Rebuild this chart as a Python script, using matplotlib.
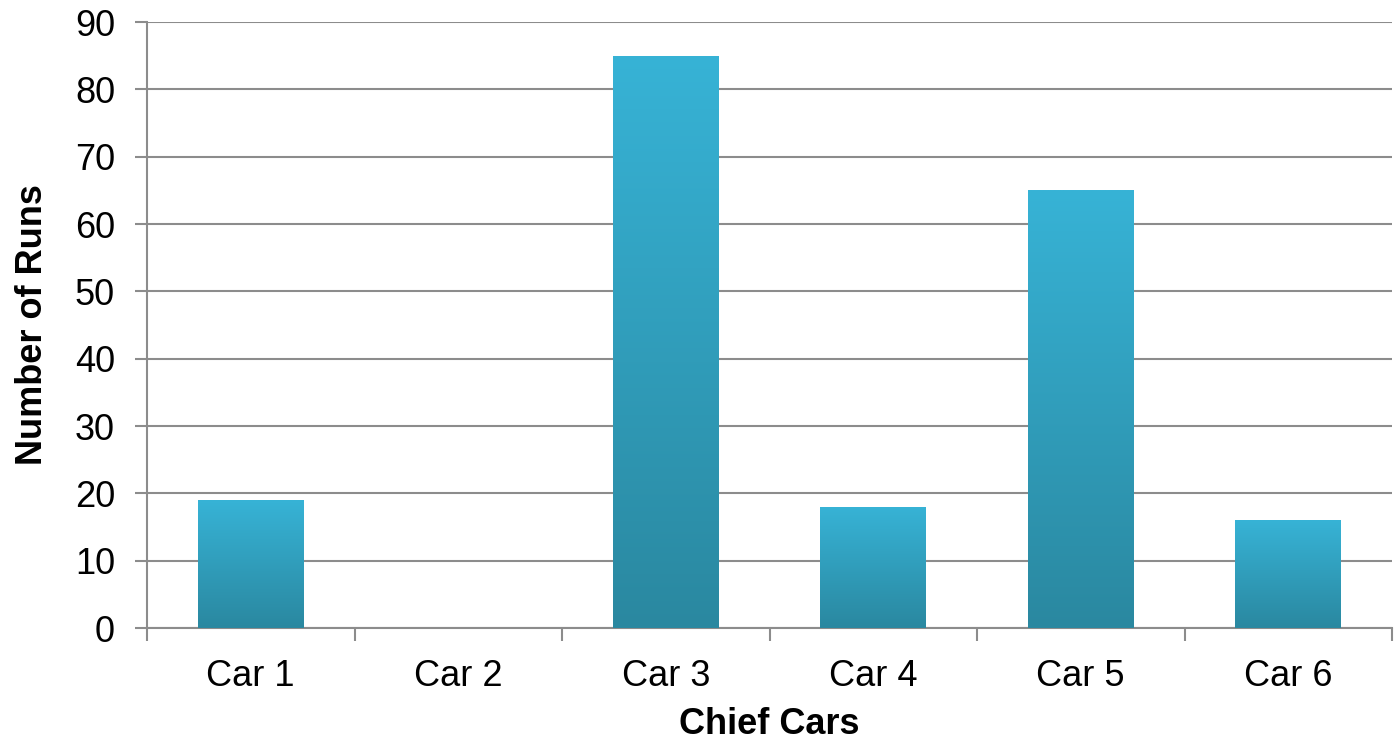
import numpy as np
import matplotlib.pyplot as plt
from matplotlib.colors import LinearSegmentedColormap

plt.rcParams['font.family'] = ['Liberation Sans', 'DejaVu Sans']

# данные
cars = ['Car 1', 'Car 2', 'Car 3', 'Car 4', 'Car 5', 'Car 6']
runs = [19, 0, 85, 18, 65, 16]
yticks = [0, 10, 20, 30, 40, 50, 60, 70, 80, 90]

grid_col = '#8c8c8c'
cmap = LinearSegmentedColormap.from_list('bar', ['#2a88a0', '#37b3d6'])

fig = plt.figure(figsize=(13.99, 7.40), dpi=100)
ax = fig.add_axes([147/1399, 1 - 628/740, (1392 - 147)/1399, (628 - 22)/740])

x = np.arange(len(cars))
bars = ax.bar(x, runs, width=0.51, color='none', edgecolor='none', zorder=3)

# градиент внутри каждого столбца
grad = np.linspace(0, 1, 256).reshape(-1, 1)
for b in bars:
    if b.get_height() <= 0:
        continue
    x0, w, h = b.get_x(), b.get_width(), b.get_height()
    im = ax.imshow(grad, cmap=cmap, origin='lower', aspect='auto',
                   extent=[x0, x0 + w, 0, h], zorder=3)
    im.set_clip_path(b)

ax.set_xlim(-0.5, len(cars) - 0.5)
ax.set_ylim(0, 90)
ax.set_yticks(yticks)
ax.set_xticks(x)
ax.set_xticklabels(cars)
ax.set_xticks(np.arange(-0.5, len(cars)), minor=True)
ax.tick_params(axis='x', which='major', length=0, pad=22, labelsize=26)
ax.tick_params(axis='x', which='minor', length=9, width=1.5, color=grid_col)
ax.tick_params(axis='y', length=9, width=1.5, color=grid_col, labelsize=26, pad=14)

ax.grid(axis='y', color=grid_col, linewidth=1.5, zorder=0)
ax.set_axisbelow(True)
for s in ['top', 'right']:
    ax.spines[s].set_visible(False)
for s in ['left', 'bottom']:
    ax.spines[s].set_color(grid_col)
    ax.spines[s].set_linewidth(1.5)

ax.set_xlabel('Chief Cars', fontsize=26, fontweight='bold', labelpad=10)
ax.set_ylabel('Number of Runs', fontsize=26, fontweight='bold', labelpad=18)

fig.savefig('out.png', dpi=100)
